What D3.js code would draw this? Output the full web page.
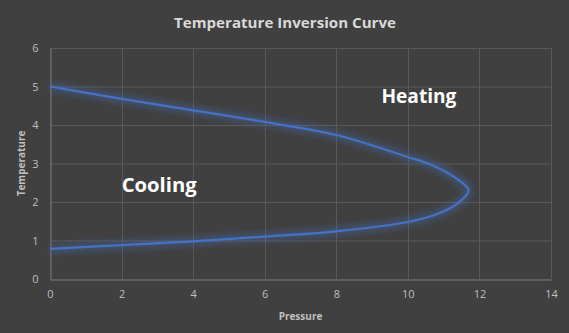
<!DOCTYPE html>
<meta charset="utf-8" />
<style>
  body {
    margin: 0px;
    padding: 0px;
    background: #404040;
  }
  svg {
    display: block;
  }
  .grid line {
    stroke: #595959;
    stroke-width: 1px;
  }
  .axis text {
    fill: #bfbfbf;
    font-family: "Open Sans", sans-serif;
    font-size: 11px;
  }
</style>

<svg width="569" height="333"></svg>

<script src="https://d3js.org/d3.v7.min.js"></script>
<script>
  // inversion curve, read upper branch left to right then back along the lower branch
  const pressure = [0, 2, 4, 6, 8, 10, 10.7, 11.4, 11.7, 11.4, 10.8, 10, 8, 6, 4, 2, 0];
  const temperature = [5, 4.68, 4.38, 4.08, 3.74, 3.17, 2.95, 2.58, 2.3, 1.97, 1.68, 1.48, 1.24, 1.1, 0.98, 0.88, 0.78];
  const xTicks = [0, 2, 4, 6, 8, 10, 12, 14];
  const yTicks = [0, 1, 2, 3, 4, 5, 6];
  const regionLabels = [
    { text: "Heating", x: 10.31, y: 4.57 },
    { text: "Cooling", x: 3.05, y: 2.26 },
  ];

  const svg = d3.select("svg"),
    width = +svg.attr("width"),
    height = +svg.attr("height");

  const margin = { top: 48, right: 18, bottom: 54, left: 50 };

  const x = d3.scaleLinear().domain([0, 14]).range([margin.left, width - margin.right]);
  const y = d3.scaleLinear().domain([0, 6]).range([height - margin.bottom, margin.top]);

  svg.append("rect").attr("width", width).attr("height", height).attr("fill", "#404040");

  const defs = svg.append("defs");
  defs
    .append("filter")
    .attr("id", "glow")
    .attr("x", "-10%")
    .attr("y", "-30%")
    .attr("width", "120%")
    .attr("height", "160%")
    .append("feGaussianBlur")
    .attr("stdDeviation", 3);

  //gridlines
  const grid = svg.append("g").attr("class", "grid");
  grid
    .selectAll("line.h")
    .data(yTicks.slice(1))
    .enter()
    .append("line")
    .attr("x1", x(0))
    .attr("x2", x(14))
    .attr("y1", (d) => y(d) + 0.5)
    .attr("y2", (d) => y(d) + 0.5);
  grid
    .selectAll("line.v")
    .data(xTicks.slice(1))
    .enter()
    .append("line")
    .attr("y1", y(0))
    .attr("y2", y(6))
    .attr("x1", (d) => Math.round(x(d)) + 0.5)
    .attr("x2", (d) => Math.round(x(d)) + 0.5);

  //axes
  const xAxis = svg
    .append("g")
    .attr("class", "axis")
    .attr("transform", `translate(0,${y(0) + 0.5})`)
    .call(d3.axisBottom(x).tickValues(xTicks).tickFormat(d3.format("d")).tickSize(0).tickPadding(11));
  const yAxis = svg
    .append("g")
    .attr("class", "axis")
    .attr("transform", `translate(${x(0) + 0.5},0)`)
    .call(d3.axisLeft(y).tickValues(yTicks).tickFormat(d3.format("d")).tickSize(0).tickPadding(12));
  xAxis.select(".domain").attr("stroke", "#7f7f7f");
  yAxis.select(".domain").attr("stroke", "#7f7f7f");

  //titles
  svg
    .append("text")
    .attr("x", 285)
    .attr("y", 28)
    .attr("text-anchor", "middle")
    .attr("fill", "#d9d9d9")
    .style("font-family", "'Open Sans', sans-serif")
    .style("font-size", "15px")
    .style("font-weight", "bold")
    .attr("textLength", 222)
    .attr("lengthAdjust", "spacingAndGlyphs")
    .text("Temperature Inversion Curve");

  svg
    .append("text")
    .attr("x", x(7))
    .attr("y", 320)
    .attr("text-anchor", "middle")
    .attr("fill", "#bfbfbf")
    .style("font-family", "'Open Sans', sans-serif")
    .style("font-size", "10px")
    .style("font-weight", "bold")
    .text("Pressure");

  svg
    .append("text")
    .attr("transform", `translate(25,${y(3)}) rotate(-90)`)
    .attr("text-anchor", "middle")
    .attr("fill", "#bfbfbf")
    .style("font-family", "'Open Sans', sans-serif")
    .style("font-size", "10px")
    .style("font-weight", "bold")
    .text("Temperature");

  //curve
  const points = pressure.map((p, i) => [p, temperature[i]]);
  const line = d3
    .line()
    .x((d) => x(d[0]))
    .y((d) => y(d[1]))
    .curve(d3.curveCatmullRom.alpha(0.5));

  svg
    .append("path")
    .datum(points)
    .attr("d", line)
    .attr("fill", "none")
    .attr("stroke", "#4472c4")
    .attr("stroke-width", 9)
    .attr("stroke-opacity", 0.35)
    .attr("filter", "url(#glow)");

  svg
    .append("path")
    .datum(points)
    .attr("d", line)
    .attr("fill", "none")
    .attr("stroke", "#4472c4")
    .attr("stroke-width", 2.25)
    .attr("stroke-linejoin", "round");

  //region labels
  svg
    .selectAll("text.region")
    .data(regionLabels)
    .enter()
    .append("text")
    .attr("class", "region")
    .attr("x", (d) => x(d.x))
    .attr("y", (d) => y(d.y))
    .attr("text-anchor", "middle")
    .attr("fill", "#ffffff")
    .style("font-family", "'Open Sans', sans-serif")
    .style("font-size", "19px")
    .style("font-weight", "bold")
    .attr("textLength", 75)
    .attr("lengthAdjust", "spacingAndGlyphs")
    .text((d) => d.text);
</script>
